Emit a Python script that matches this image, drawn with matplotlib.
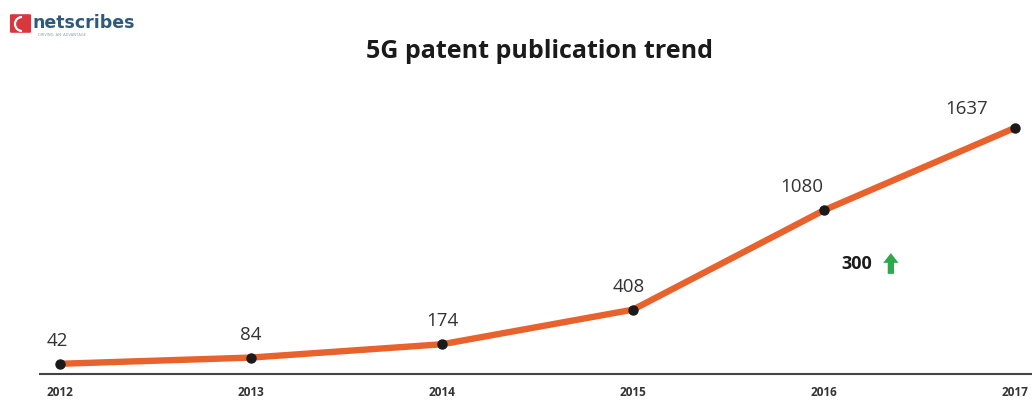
import numpy as np
import matplotlib.pyplot as plt
import matplotlib.patches as patches

# datos: publicaciones de patentes 5G por año
years = ["2012", "2013", "2014", "2015", "2016", "2017"]
patents = [42, 84, 174, 408, 1080, 1637]

# desplazamiento de cada etiqueta de valor (puntos)
label_dx = [-2, 0, 0, -3, -16, -35]
label_dy = [10, 10, 10, 10, 10, 7]

LINE_COLOR = "#E8622E"
TEXT_COLOR = "#333333"

plt.rcParams["font.family"] = ["Open Sans", "DejaVu Sans"]

fig = plt.figure(figsize=(10.32, 4.01), dpi=100)
fig.patch.set_facecolor("white")

W, H = 1032, 401
ax = fig.add_axes([40 / W, 1 - 374 / H, 991 / W, 274 / H])

x = np.arange(len(years))
ax.plot(x, patents, color=LINE_COLOR, linewidth=4.6, solid_capstyle="butt",
        zorder=2)
ax.plot(x, patents, "o", color="#1a1a1a", markersize=6.5, zorder=3)

for xi, v, dx, dy in zip(x, patents, label_dx, label_dy):
    ax.annotate(f"{v}", (xi, v), xytext=(dx, dy), textcoords="offset points",
                ha="center", va="bottom", fontsize=13.5, color=TEXT_COLOR)

# anotación de crecimiento
ax.text(4.17, 716, "300", fontsize=13, fontweight="bold", color="#1a1a1a",
        ha="center", va="center")
ax.annotate("", xy=(4.35, 790), xytext=(4.35, 650),
            arrowprops=dict(width=4.5, headwidth=11, headlength=7, shrink=0,
                            color="#2DA84A", lw=0))

ax.set_xlim(-20 / 191, 5 + 16 / 191)
ax.set_ylim(-27, 1825)
ax.set_xticks(x)
ax.set_xticklabels(years, fontsize=8.5, fontweight="bold", color=TEXT_COLOR)
ax.tick_params(axis="x", length=0, pad=9)
ax.set_yticks([])
for side in ["top", "right", "left"]:
    ax.spines[side].set_visible(False)
ax.spines["bottom"].set_color("#444444")
ax.spines["bottom"].set_linewidth(1.5)

fig.text(540 / W, 1 - 52 / H, "5G patent publication trend", ha="center",
         va="center", fontsize=18, fontweight="bold", color="#1a1a1a")

# logo
logo = patches.FancyBboxPatch((12 / W, 1 - 32 / H), 17 / W, 17 / H,
                              boxstyle="round,pad=0.002",
                              transform=fig.transFigure,
                              facecolor="#D9363E", edgecolor="none")
fig.patches.append(logo)
fig.patches.append(patches.Arc((22 / W, 1 - 24 / H), 14 / W, 14 / H,
                               theta1=90, theta2=270,
                               transform=fig.transFigure,
                               color="white", lw=1.6))
fig.text(33 / W, 1 - 23 / H, "netscribes", fontsize=12.5, fontweight="bold",
         color="#2E5A7E", va="center", ha="left", family="DejaVu Sans")
fig.text(38 / W, 1 - 35 / H, "DRIVING  AN  ADVANTAGE", fontsize=2.8,
         color="#8899aa", va="center", ha="left")

fig.savefig("out.png", dpi=100, facecolor="white")
